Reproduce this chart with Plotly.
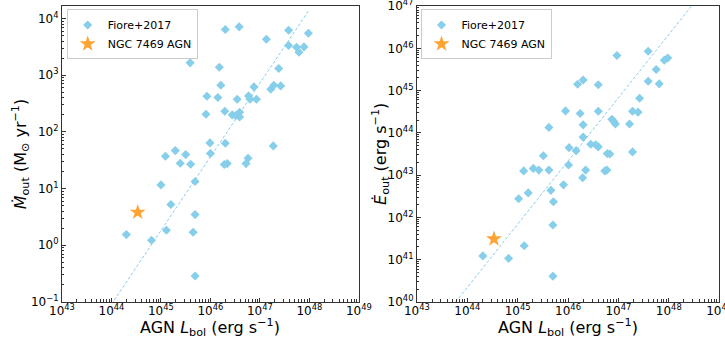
import numpy as np
import plotly.graph_objects as go

# data (log10 values)

# left panel: mass outflow rate vs AGN bolometric luminosity
mdot_logL = [44.30, 44.81, 45.00, 45.09, 45.11, 45.20, 45.29, 45.39, 45.50, 45.59,
             45.60, 45.65, 45.69, 45.69, 45.69, 45.91, 45.93, 45.99, 46.00, 46.15,
             46.18, 46.21, 46.28, 46.29, 46.30, 46.30, 46.34, 46.44, 46.51, 46.54,
             46.58, 46.59, 46.59, 46.72, 46.76, 46.77, 46.80, 46.88, 46.93, 47.13,
             47.22, 47.27, 47.28, 47.38, 47.42, 47.58, 47.58, 47.74, 47.79, 47.89,
             47.98]
mdot_log = [0.188, 0.088, 1.065, 1.57, 0.265, 0.72, 1.67, 1.447, 1.60, 3.218,
            1.43, 0.229, 1.124, 0.541, -0.541, 2.312, 2.63, 1.806, 1.618, 2.606,
            3.141, 2.824, 1.424, 2.365, 3.806, 1.80, 1.441, 2.30, 2.288, 2.576,
            3.853, 2.347, 2.265, 1.441, 1.535, 2.635, 2.576, 2.794, 2.576, 3.635,
            2.753, 1.753, 2.824, 3.118, 2.812, 3.794, 3.524, 3.494, 3.406, 3.50,
            3.741]

# right panel: kinetic power of the outflow
edot_logL = [44.31, 44.82, 45.13, 45.02, 45.12, 45.21, 45.31, 45.42, 45.51, 45.62,
             45.62, 45.66, 45.71, 45.70, 45.70, 45.91, 45.95, 46.01, 46.02, 46.16,
             46.19, 46.24, 46.29, 46.30, 46.30, 46.30, 46.35, 46.45, 46.55, 46.60,
             46.60, 46.60, 46.73, 46.77, 46.78, 46.83, 46.87, 46.91, 46.94, 46.97,
             47.22, 47.28, 47.28, 47.39, 47.42, 47.59, 47.59, 47.75, 47.81, 47.91,
             47.98]
edot_log = [41.09, 41.03, 41.33, 42.44, 43.10, 42.58, 43.16, 43.12, 43.46, 44.13,
            43.12, 42.64, 42.37, 41.82, 40.61, 42.77, 44.52, 43.24, 43.65, 43.58,
            45.15, 44.46, 42.94, 44.19, 43.90, 45.25, 43.12, 43.73, 43.72, 43.67,
            44.51, 45.14, 43.10, 43.12, 43.51, 43.50, 44.32, 44.27, 44.21, 45.83,
            44.21, 44.51, 43.55, 44.49, 44.82, 45.93, 45.22, 45.50, 45.16, 45.72,
            45.77]

# NGC 7469
ngc_logL = 44.53
ngc_mdot_log = 0.582
ngc_edot_log = 41.49

# Fiore+2017 scaling relations (drawn as dashed lines)
mdot_fit_L = [44.0, 48.0]
mdot_fit = [-1.04, 4.16]
edot_fit_L = [43.77, 48.45]
edot_fit = [40.0, 47.0]

# tick decades
x_dec = list(range(43, 50))
mdot_dec = list(range(-1, 5))
edot_dec = list(range(40, 48))

def p10(a):
    return 10 ** np.array(a, dtype=float)

def pow_labels(decs):
    return ["10<sup>%s</sup>" % (str(d).replace("-", "−")) for d in decs]

blue = "#87CEEB"
orange = "rgba(255,140,0,0.8)"
font = "DejaVu Sans"
dash = "3px,2px"

fig = go.Figure()

# left
fig.add_trace(go.Scatter(x=p10(mdot_fit_L), y=p10(mdot_fit), mode="lines",
                         line=dict(color=blue, width=1, dash=dash), showlegend=False,
                         xaxis="x", yaxis="y"))
fig.add_trace(go.Scatter(x=p10(mdot_logL), y=p10(mdot_log), mode="markers", name="Fiore+2017",
                         marker=dict(symbol="diamond", size=7, color=blue), legend="legend",
                         xaxis="x", yaxis="y"))
fig.add_trace(go.Scatter(x=[10 ** ngc_logL], y=[10 ** ngc_mdot_log], mode="markers", name="NGC 7469 AGN",
                         marker=dict(symbol="star", size=12, color=orange), legend="legend",
                         xaxis="x", yaxis="y"))

# right
fig.add_trace(go.Scatter(x=p10(edot_fit_L), y=p10(edot_fit), mode="lines",
                         line=dict(color=blue, width=1, dash=dash), showlegend=False,
                         xaxis="x2", yaxis="y2"))
fig.add_trace(go.Scatter(x=p10(edot_logL), y=p10(edot_log), mode="markers", name="Fiore+2017",
                         marker=dict(symbol="diamond", size=7, color=blue), legend="legend2",
                         xaxis="x2", yaxis="y2"))
fig.add_trace(go.Scatter(x=[10 ** ngc_logL], y=[10 ** ngc_edot_log], mode="markers", name="NGC 7469 AGN",
                         marker=dict(symbol="star", size=12, color=orange), legend="legend2",
                         xaxis="x2", yaxis="y2"))

axis_style = dict(type="log", showgrid=False, zeroline=False,
                  showline=True, linecolor="#333", linewidth=1, mirror=True,
                  ticks="inside", ticklen=4, tickcolor="#333",
                  minor=dict(ticks="inside", ticklen=2.5, tickcolor="#333", dtick="D1", showgrid=False),
                  tickfont=dict(family=font, size=12, color="black"), automargin=False,
                  ticklabeloverflow="allow")

fig.update_layout(
    width=725, height=337,
    margin=dict(l=0, r=0, t=0, b=0),
    paper_bgcolor="white", plot_bgcolor="white",
    font=dict(family=font, color="black"),
    xaxis=dict(axis_style, domain=[0.0855, 0.495], range=[43, 49], anchor="y",
               tickvals=p10(x_dec), ticktext=pow_labels(x_dec), ticklabelstandoff=-2),
    yaxis=dict(axis_style, domain=[0.104, 0.982], range=[-1, 4.22], anchor="x",
               tickvals=p10(mdot_dec), ticktext=pow_labels(mdot_dec)),
    xaxis2=dict(axis_style, domain=[0.575, 0.992], range=[43, 49], anchor="y2",
                tickvals=p10(x_dec), ticktext=pow_labels(x_dec), ticklabelstandoff=-2),
    yaxis2=dict(axis_style, domain=[0.104, 0.982], range=[40, 47], anchor="x2",
                tickvals=p10(edot_dec), ticktext=pow_labels(edot_dec)),
    legend=dict(x=0.092, y=0.972, xanchor="left", yanchor="top", bgcolor="white",
                bordercolor="#ccc", borderwidth=1, font=dict(size=11), tracegroupgap=0,
                itemwidth=30),
    legend2=dict(x=0.580, y=0.972, xanchor="left", yanchor="top", bgcolor="white",
                 bordercolor="#ccc", borderwidth=1, font=dict(size=11), tracegroupgap=0,
                 itemwidth=30),
)

xtitle = "AGN <i>L</i><sub>bol</sub> (erg s<sup>−1</sup>)"
titles = [
    (0.290, -0.012, xtitle, 0, "center", "bottom"),
    (0.783, -0.012, xtitle, 0, "center", "bottom"),
    (0.028, 0.543, "<i>Ṁ</i><sub>out</sub> (M<sub>⊙</sub> yr<sup>−1</sup>)", -90, "center", "middle"),
    (0.524, 0.543, "<i>Ė</i><sub>out</sub> (erg s<sup>−1</sup>)", -90, "center", "middle"),
]
for x, y, text, ang, xa, ya in titles:
    fig.add_annotation(x=x, y=y, xref="paper", yref="paper", text=text, textangle=ang,
                       showarrow=False, xanchor=xa, yanchor=ya,
                       font=dict(family=font, size=16, color="black"))

# the page body has a default 8px margin; drop it so the figure sits at the window corner
fig.write_html("out.html", config={"displayModeBar": False},
               post_script="document.body.style.margin='0px';")
